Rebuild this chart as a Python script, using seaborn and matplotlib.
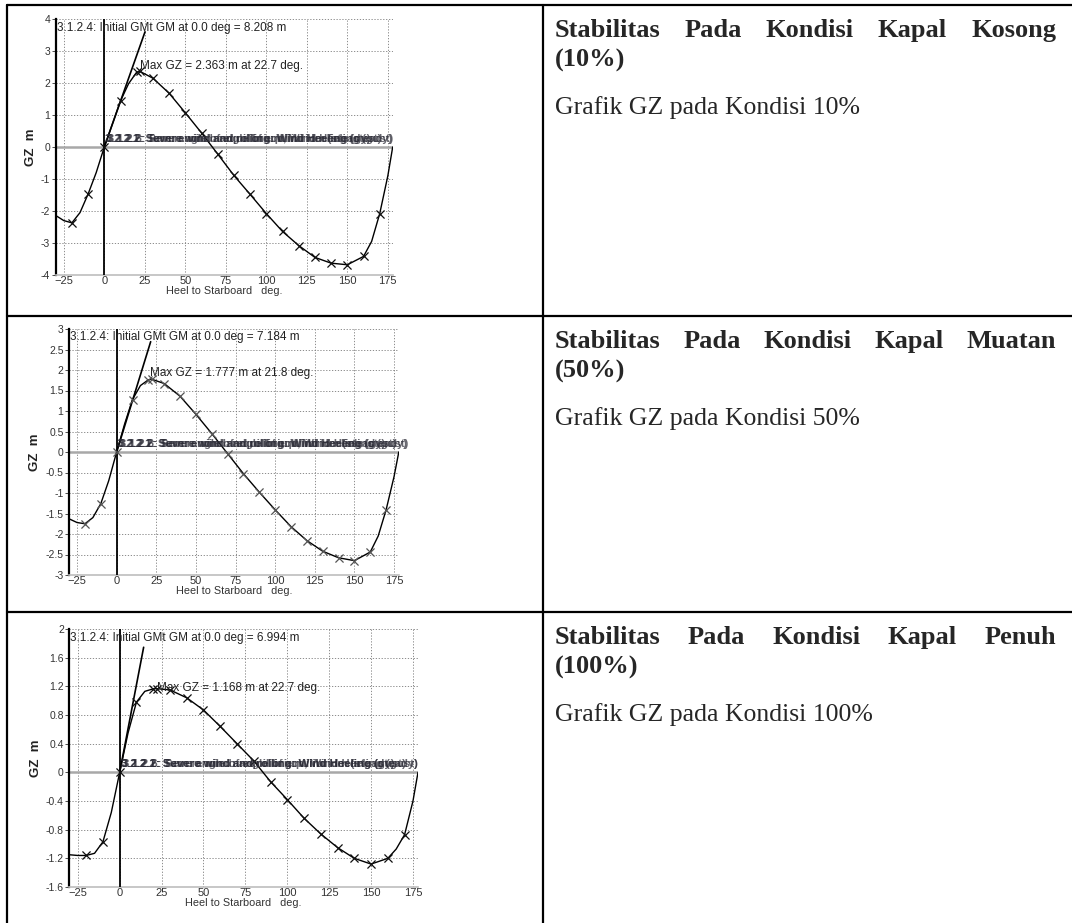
import numpy as np
import pandas as pd
import seaborn as sns
import matplotlib.pyplot as plt
from matplotlib.lines import Line2D
from matplotlib.ticker import FormatStrFormatter

# heel angles (deg) shared by the three GZ curves
heel = [-30, -25, -20, -15, -10, -5, 0, 5, 10, 15, 20, 22, 30, 40, 50, 60, 70,
        80, 90, 100, 110, 120, 130, 140, 150, 160, 165, 170, 175, 178]
# angles that carry an "x" marker
marked = [-20, -10, 0, 10, 20, 22, 30, 40, 50, 60, 70, 80, 90, 100, 110, 120,
          130, 140, 150, 160, 170]

gz_kosong = [-2.14, -2.30, -2.37, -2.05, -1.47, -0.80, 0.0, 0.72, 1.44, 1.98, 2.34, 2.363,
             2.15, 1.68, 1.07, 0.44, -0.22, -0.89, -1.48, -2.08, -2.64, -3.08, -3.45,
             -3.63, -3.68, -3.42, -2.95, -2.08, -0.90, 0.0]
gz_muatan = [-1.63, -1.72, -1.75, -1.60, -1.26, -0.70, 0.0, 0.68, 1.28, 1.62, 1.76, 1.777,
             1.67, 1.36, 0.92, 0.45, -0.04, -0.53, -0.98, -1.41, -1.82, -2.16, -2.42,
             -2.58, -2.65, -2.44, -2.05, -1.41, -0.60, 0.0]
gz_penuh = [-1.15, -1.16, -1.16, -1.13, -0.97, -0.56, 0.0, 0.55, 0.98, 1.13, 1.165, 1.168,
            1.15, 1.04, 0.87, 0.64, 0.40, 0.16, -0.13, -0.38, -0.64, -0.86, -1.05,
            -1.20, -1.28, -1.20, -1.07, -0.87, -0.40, 0.0]

gm_values = [8.208, 7.184, 6.994]
gm_line_top = [3.6, 2.69, 1.745]
max_gz = [2.363, 1.777, 1.168]
max_angle = [22.7, 21.8, 22.7]
ylims = [(-4, 4), (-3, 3), (-1.6, 2)]
ystep = [1, 0.5, 0.4]
marker_colors = ['#111111', '#555555', '#111111']

titles = [["Stabilitas", "Pada", "Kondisi", "Kapal", "Kosong"],
          ["Stabilitas", "Pada", "Kondisi", "Kapal", "Muatan"],
          ["Stabilitas", "Pada", "Kondisi", "Kapal", "Penuh"]]
title_tail = ["(10%)", "(50%)", "(100%)"]
captions = ["Grafik GZ pada Kondisi 10%", "Grafik GZ pada Kondisi 50%",
            "Grafik GZ pada Kondisi 100%"]
overlap_labels = ["3.2.2.1: Severe wind and rolling: Wind Heeling (steady)",
                  "3.2.2.2: Severe wind and rolling: Wind Heeling (gust)",
                  "3.1.2.2: Turn: angle of equilibrium, Wind Heeling (gust)",
                  "3.1.2.6: Severe wind: angle of equilibrium (steady)"]

W, H = 1072, 923
sns.set_style("white")
plt.rcParams['font.family'] = ['Liberation Sans', 'DejaVu Sans']

fig = plt.figure(figsize=(W / 100, H / 100), dpi=100)
renderer = fig.canvas.get_renderer()


def px_axes(left, top, right, bottom):
    return fig.add_axes([left / W, 1 - bottom / H, (right - left) / W, (bottom - top) / H])


# table lines
for x0, y0, x1, y1 in [(7, 5, W, 5), (7, 5, 7, H), (543, 5, 543, H),
                       (7, 316, W, 316), (7, 612, W, 612)]:
    fig.add_artist(Line2D([x0 / W, x1 / W], [1 - y0 / H, 1 - y1 / H], color='black',
                          lw=1.6, transform=fig.transFigure))

# axes boxes in pixels: left(-30), top, right(178), bottom
boxes = [(55.7, 19, 392.7, 275), (69.1, 329, 398.8, 575), (69.4, 629, 418, 887)]
overlap_width = [284, 290, 295]
max_text_y = [2.45, 1.86, 1.13]
curves = [gz_kosong, gz_muatan, gz_penuh]

for i in range(3):
    ax = px_axes(*boxes[i])
    df = pd.DataFrame({"heel": heel, "gz": curves[i]})
    df["mark"] = df["heel"].isin(marked)
    lo, hi = ylims[i]

    ax.set_xlim(-30, 178)
    ax.set_ylim(lo, hi)
    ax.set_xticks(np.arange(-25, 176, 25))
    ax.set_yticks(np.round(np.arange(lo, hi + 1e-6, ystep[i]), 2) + 0.0)
    ax.yaxis.set_major_formatter(FormatStrFormatter('%g'))
    ax.grid(True, linestyle=(0, (1.5, 2.0)), color='#7a7a7a', lw=0.6)
    ax.axhline(0, color='#a8a8a8', lw=1.8, zorder=1)
    ax.axvline(0, color='black', lw=1.3, zorder=3)

    sns.lineplot(data=df, x="heel", y="gz", color='black', lw=1.0, ax=ax, zorder=4)
    sns.scatterplot(data=df[df["mark"]], x="heel", y="gz", marker='x', s=34,
                    color=marker_colors[i], linewidth=0.9, ax=ax, zorder=5)

    # initial GM line
    slope = gm_values[i] / 57.3
    gm_df = pd.DataFrame({"heel": [0, gm_line_top[i] / slope], "gz": [0, gm_line_top[i]]})
    sns.lineplot(data=gm_df, x="heel", y="gz", color='black', lw=1.2, ax=ax, zorder=4)

    for side in ['top', 'right']:
        ax.spines[side].set_visible(False)
    ax.spines['left'].set_color('black')
    ax.spines['left'].set_linewidth(1.6)
    ax.spines['bottom'].set_color('#bdbdbd')
    ax.spines['bottom'].set_linewidth(1.2)
    ax.tick_params(axis='y', labelsize=7.5, colors='#333333', length=3, width=0.6, pad=1,
                   left=True)
    ax.tick_params(axis='x', labelsize=8, colors='#333333', length=0, pad=1)
    ax.set_xlabel("Heel to Starboard   deg.", fontsize=7.8, color='#333333', labelpad=0)
    ax.set_ylabel("GZ  m", fontsize=9.5, color='#222222', fontweight='bold', labelpad=3)

    span = hi - lo
    ax.text(-29.5, hi - 0.045 * span,
            "3.1.2.4: Initial GMt GM at 0.0 deg = %.3f m" % gm_values[i],
            fontsize=8.5, color='#222222', va='baseline', zorder=6)
    ax.text(max_angle[i] - 0.5, max_text_y[i],
            "Max GZ = %.3f m at %.1f deg." % (max_gz[i], max_angle[i]),
            fontsize=8.5, color='#222222', va='baseline', zorder=6)

    # overlapping criterion labels on the zero line, all at one size
    fs = None
    for k, lab in enumerate(overlap_labels):
        t = ax.text(0.5 + 0.5 * k, 0.012 * span, lab, fontsize=6.5, color='#2a2a35',
                    fontweight='bold', va='bottom', zorder=6, alpha=0.7)
        if fs is None:
            fs = 6.5 * overlap_width[i] / t.get_window_extent(renderer).width
        t.set_fontsize(fs)

# right column text
row_tops = [5, 316, 612]
left_px, right_px = 555, 1056
serif = ['Liberation Serif', 'DejaVu Serif']
for i in range(3):
    base = row_tops[i] + 32
    words = [fig.text(0, 0, w, fontsize=19, fontweight='bold', family=serif,
                      va='baseline') for w in titles[i]]
    widths = [t.get_window_extent(renderer).width for t in words]
    gap = (right_px - left_px - sum(widths)) / (len(words) - 1)
    x = left_px
    for t, w in zip(words, widths):
        t.set_position((x / W, 1 - base / H))
        x += w + gap
    fig.text(left_px / W, 1 - (base + 30) / H, title_tail[i], fontsize=19,
             fontweight='bold', family=serif, va='baseline')
    fig.text(left_px / W, 1 - (base + 77) / H, captions[i], fontsize=18.5,
             family=serif, va='baseline')

fig.savefig("out.png", dpi=100)
